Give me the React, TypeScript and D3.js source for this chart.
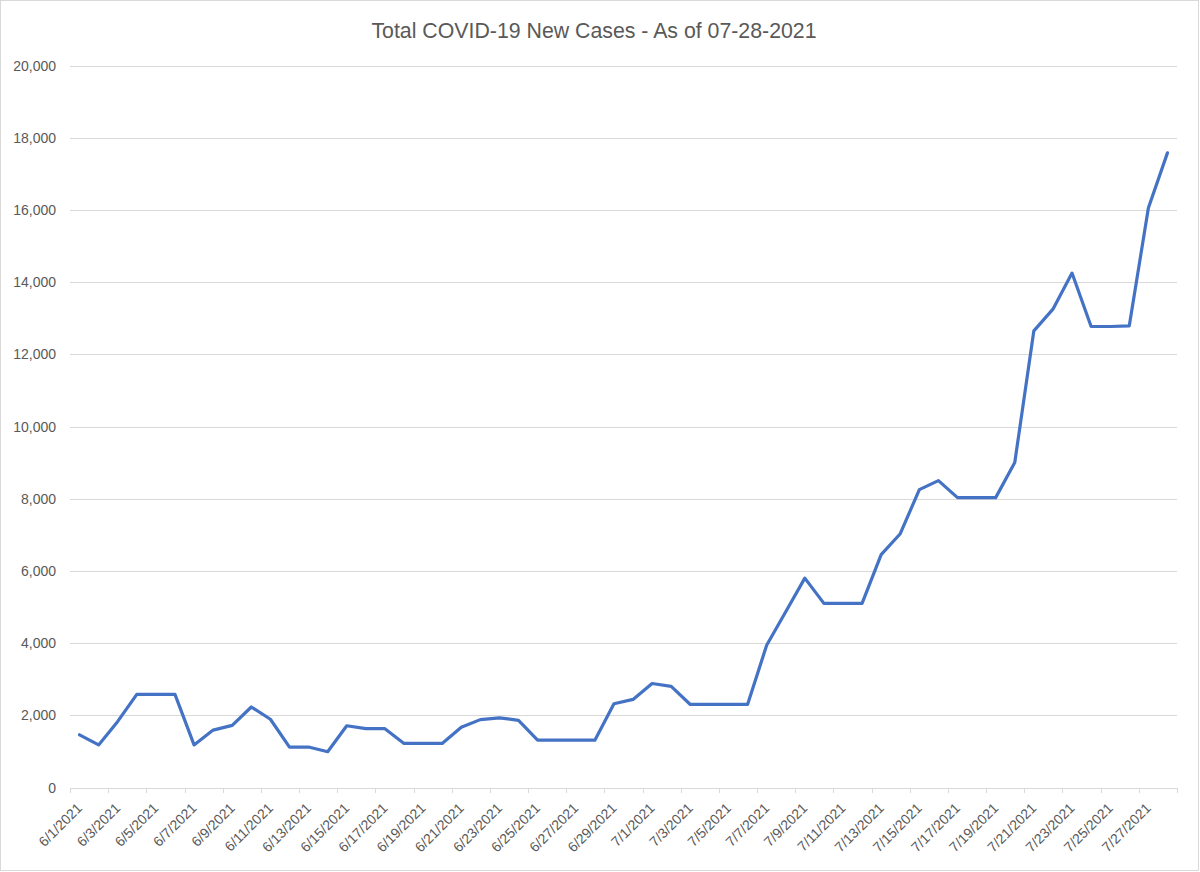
import React from "react";
import * as d3 from "d3";

const TITLE = "Total COVID-19 New Cases - As of 07-28-2021";

const dates: string[] = [
  "6/1/2021", "6/2/2021", "6/3/2021", "6/4/2021", "6/5/2021", "6/6/2021", "6/7/2021", "6/8/2021",
  "6/9/2021", "6/10/2021", "6/11/2021", "6/12/2021", "6/13/2021", "6/14/2021", "6/15/2021", "6/16/2021",
  "6/17/2021", "6/18/2021", "6/19/2021", "6/20/2021", "6/21/2021", "6/22/2021", "6/23/2021", "6/24/2021",
  "6/25/2021", "6/26/2021", "6/27/2021", "6/28/2021", "6/29/2021", "6/30/2021",
  "7/1/2021", "7/2/2021", "7/3/2021", "7/4/2021", "7/5/2021", "7/6/2021", "7/7/2021", "7/8/2021",
  "7/9/2021", "7/10/2021", "7/11/2021", "7/12/2021", "7/13/2021", "7/14/2021", "7/15/2021", "7/16/2021",
  "7/17/2021", "7/18/2021", "7/19/2021", "7/20/2021", "7/21/2021", "7/22/2021", "7/23/2021", "7/24/2021",
  "7/25/2021", "7/26/2021", "7/27/2021", "7/28/2021",
];

const newCases: number[] = [
  1460, 1180, 1830, 2580, 2580, 2580, 1180, 1590,
  1720, 2230, 1890, 1120, 1120, 990, 1710, 1630,
  1630, 1220, 1220, 1220, 1670, 1880, 1930, 1860,
  1310, 1310, 1310, 1310, 2320, 2440,
  2880, 2800, 2300, 2300, 2300, 2300, 3940, 4870,
  5800, 5100, 5100, 5100, 6450, 7030, 8250, 8500,
  8030, 8030, 8030, 9000, 12650, 13250, 14250, 12770,
  12770, 12790, 16050, 17580,
];

const yTicks: number[] = [0, 2000, 4000, 6000, 8000, 10000, 12000, 14000, 16000, 18000, 20000];

const W = 1200;
const H = 872;
const FONT = "'Liberation Sans', Arial, sans-serif";
const TEXT = "#595959";
const GRID = "#d9d9d9";

export default function App() {
  const x = d3.scaleBand<string>().domain(dates).range([70, 1177]).padding(0);
  const y = d3.scaleLinear().domain([0, 20000]).range([787.5, 65.5]);
  const bw = x.bandwidth();
  const cx = (d: string) => (x(d) as number) + bw / 2;

  const line = d3
    .line<number>()
    .x((_, i) => cx(dates[i]))
    .y((v) => y(v));

  const fmt = d3.format(",");
  const labelIdx = dates.map((_, i) => i).filter((i) => i % 2 === 0);
  const tickXs = labelIdx.map((i) => x(dates[i]) as number).concat([1177]);

  return (
    <svg
      width={W}
      height={H}
      style={{ position: "absolute", left: 0, top: 0, background: "#fff" }}
      fontFamily={FONT}
    >
      <rect x={0.5} y={0.5} width={W - 2} height={H - 2} fill="#fff" stroke={GRID} />
      <text x={594} y={38} textAnchor="middle" fontSize={21.3} fill={TEXT}>
        {TITLE}
      </text>
      {yTicks.map((t) => (
        <g key={t}>
          <line x1={70} x2={1177} y1={Math.round(y(t)) + 0.5} y2={Math.round(y(t)) + 0.5} stroke={GRID} strokeWidth={1} />
          <text x={56} y={y(t) + 5} textAnchor="end" fontSize={14} fill={TEXT}>
            {fmt(t)}
          </text>
        </g>
      ))}
      {tickXs.map((tx, i) => (
        <line key={i} x1={Math.round(tx) + 0.5} x2={Math.round(tx) + 0.5} y1={788} y2={793} stroke={GRID} />
      ))}
      {labelIdx.map((i) => {
        const lx = cx(dates[i]) + 3.5;
        const ly = 809;
        return (
          <text
            key={i}
            x={lx}
            y={ly}
            textAnchor="end"
            fontSize={14}
            fill={TEXT}
            transform={`rotate(-45 ${lx} ${ly})`}
          >
            {dates[i]}
          </text>
        );
      })}
      <path
        d={line(newCases) || ""}
        fill="none"
        stroke="#4472C4"
        strokeWidth={3.2}
        strokeLinejoin="round"
        strokeLinecap="round"
      />
    </svg>
  );
}
